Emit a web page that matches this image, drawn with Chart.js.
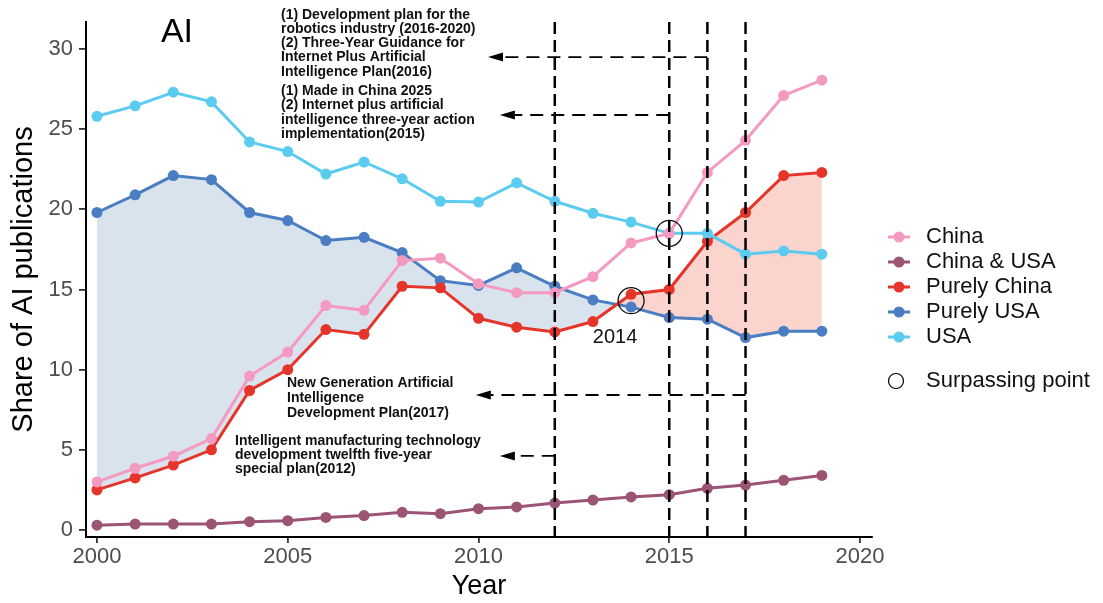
<!DOCTYPE html>
<html><head><meta charset="utf-8">
<script src="https://cdn.jsdelivr.net/npm/chart.js@4"></script>
<style>html,body{margin:0;padding:0;background:#fff;}</style>
</head><body>
<canvas id="c" width="1103" height="603" style="width:1103px;height:603px;display:block"></canvas>
<script>
const years = [2000,2001,2002,2003,2004,2005,2006,2007,2008,2009,2010,2011,2012,2013,2014,2015,2016,2017,2018,2019];
const china       = [3.0,3.85,4.6,5.7,9.6,11.1,14.0,13.7,16.8,16.95,15.35,14.8,14.8,15.8,17.9,18.5,22.3,24.3,27.1,28.05];
const chinaUSA    = [0.3,0.37,0.37,0.37,0.52,0.58,0.78,0.9,1.1,1.02,1.33,1.44,1.68,1.87,2.06,2.2,2.6,2.8,3.1,3.4];
const purelyChina = [2.5,3.25,4.05,5.0,8.7,10.0,12.5,12.2,15.2,15.1,13.2,12.65,12.35,13.0,14.7,15.0,18.0,19.8,22.1,22.3];
const purelyUSA   = [19.8,20.9,22.1,21.85,19.8,19.3,18.05,18.25,17.3,15.55,15.25,16.35,15.2,14.35,13.9,13.25,13.15,12.0,12.4,12.4];
const usa         = [25.8,26.45,27.3,26.7,24.2,23.6,22.2,22.95,21.9,20.5,20.45,21.65,20.5,19.75,19.2,18.5,18.5,17.2,17.4,17.2];
const surpassX = [2014, 2015];
const surpassY = [14.3, 18.5];
const xTicks = [2000,2005,2010,2015,2020];
const yTicks = [0,5,10,15,20,25,30];
const policyYears = [2012,2015,2016,2017];
const arrows = [
  {from:2016, to:2010.25, y:29.49},
  {from:2015, to:2010.56, y:25.88},
  {from:2017, to:2009.93, y:8.42},
  {from:2012, to:2010.56, y:4.62}
];
const notes = [
  {x:281, y:15, lh:14.2, lines:["(1) Development plan for the","robotics industry (2016-2020)","(2) Three-Year Guidance for","Internet Plus Artificial","Intelligence Plan(2016)"]},
  {x:281, y:91, lh:14.5, lines:["(1) Made in China 2025","(2) Internet plus artificial","intelligence three-year action","implementation(2015)"]},
  {x:287, y:383.5, lh:15, lines:["New Generation Artificial","Intelligence","Development Plan(2017)"]},
  {x:235, y:441.5, lh:13.7, lines:["Intelligent manufacturing technology","development twelfth five-year","special plan(2012)"]}
];
const seriesNames = ["China","China & USA","Purely China","Purely USA","USA"];
const colors = {china:'#F49AC1', chinaUSA:'#9C5474', purelyChina:'#E5352B', purelyUSA:'#4A7DC1', usa:'#5CCBF0'};
const legendColors = [colors.china, colors.chinaUSA, colors.purelyChina, colors.purelyUSA, colors.usa];

const toPts = arr => arr.map((v,i)=>({x:years[i], y:v}));
const FONT = "'Liberation Sans', Arial, sans-serif";

function lineDs(label, data, color, order, extra) {
  return Object.assign({
    type:'line', label, data: toPts(data), borderColor: color, backgroundColor: color,
    borderWidth: 3, pointRadius: 5.5, pointBorderWidth: 0, pointBackgroundColor: color,
    fill:false, tension:0, order
  }, extra||{});
}

const overlay = {
  id:'overlay',
  afterDatasetsDraw(chart) {
    const {ctx, chartArea, scales:{x,y}} = chart;
    ctx.save();
    ctx.strokeStyle = '#000'; ctx.lineWidth = 2.5; ctx.setLineDash([12,6]);
    policyYears.forEach(yr => {
      const px = x.getPixelForValue(yr);
      ctx.beginPath(); ctx.moveTo(px, chartArea.top); ctx.lineTo(px, chartArea.bottom); ctx.stroke();
    });
    ctx.lineWidth = 1.8; ctx.setLineDash([13,8]);
    arrows.forEach(a => {
      const x0 = x.getPixelForValue(a.from), x1 = x.getPixelForValue(a.to), py = y.getPixelForValue(a.y);
      ctx.beginPath(); ctx.moveTo(x0, py); ctx.lineTo(x1 + 15, py); ctx.stroke();
      ctx.setLineDash([]);
      ctx.beginPath(); ctx.moveTo(x1, py); ctx.lineTo(x1+15, py-4.5); ctx.lineTo(x1+15, py+4.5); ctx.closePath();
      ctx.fillStyle = '#000'; ctx.fill();
      ctx.setLineDash([13,8]);
    });
    ctx.setLineDash([]);
    ctx.fillStyle = '#111'; ctx.font = "bold 14px " + FONT; ctx.textBaseline = 'middle'; ctx.textAlign = 'left';
    notes.forEach(n => n.lines.forEach((t,i)=>ctx.fillText(t, n.x, n.y + i*n.lh)));
    ctx.font = "20px " + FONT; ctx.textAlign = 'center'; ctx.fillStyle = '#111';
    ctx.fillText("2014", x.getPixelForValue(2013.58), y.getPixelForValue(11.98));
    ctx.font = "34px " + FONT; ctx.fillStyle = '#000';
    ctx.fillText("AI", 177, 33);
    ctx.font = "22px " + FONT; ctx.textAlign = 'left';
    seriesNames.forEach((name,i) => {
      const cy = 237 + i*25;
      ctx.strokeStyle = legendColors[i]; ctx.lineWidth = 3;
      ctx.beginPath(); ctx.moveTo(888, cy); ctx.lineTo(910, cy); ctx.stroke();
      ctx.fillStyle = legendColors[i];
      ctx.beginPath(); ctx.arc(899, cy, 5.5, 0, Math.PI*2); ctx.fill();
      ctx.fillStyle = '#111'; ctx.fillText(name, 926, cy);
    });
    ctx.strokeStyle = '#000'; ctx.lineWidth = 1.2;
    ctx.beginPath(); ctx.arc(896, 381, 7.5, 0, Math.PI*2); ctx.stroke();
    ctx.fillStyle = '#111'; ctx.fillText("Surpassing point", 926, 381);
    ctx.restore();
  }
};

new Chart(document.getElementById('c'), {
  data: {
    datasets: [
      {type:'scatter', label:'Surpassing point', data: surpassX.map((v,i)=>({x:v,y:surpassY[i]})),
       pointRadius: 13, pointBorderWidth: 1.3, pointBorderColor:'#111', pointBackgroundColor:'rgba(0,0,0,0)', order:0},
      lineDs(seriesNames[0], china, colors.china, 1),
      lineDs(seriesNames[4], usa, colors.usa, 2),
      lineDs(seriesNames[2], purelyChina, colors.purelyChina, 3,
        {fill:{target:4, above:'#FAD4CD', below:'#D9E3EE'}}),
      lineDs(seriesNames[3], purelyUSA, colors.purelyUSA, 4),
      lineDs(seriesNames[1], chinaUSA, colors.chinaUSA, 5)
    ]
  },
  options: {
    responsive:false, animation:false, devicePixelRatio:1,
    layout:{padding:{top:22, right:231, left:0, bottom:0}},
    plugins:{legend:{display:false}, tooltip:{enabled:false}, filler:{drawTime:'beforeDatasetsDraw'}},
    scales:{
      x:{type:'linear', min:1999.712, max:2020.315,
         afterBuildTicks: s => { s.ticks = xTicks.map(v=>({value:v})); },
         afterFit: s => { s.height = 66; },
         grid:{drawOnChartArea:false, drawTicks:true, tickLength:6, color:'#333', lineWidth:1.8},
         border:{display:true, color:'#000', width:2},
         ticks:{color:'#4D4D4D', font:{family:FONT, size:22}, padding:1, callback:v=>String(v), maxRotation:0},
         title:{display:true, text:'Year', color:'#000', font:{family:FONT, size:27}, padding:{top:0,bottom:0}}
      },
      y:{type:'linear', min:-0.437, max:31.68,
         afterBuildTicks: s => { s.ticks = yTicks.map(v=>({value:v})); },
         afterFit: s => { s.width = 86; },
         grid:{drawOnChartArea:false, drawTicks:true, tickLength:7, color:'#333', lineWidth:1.8},
         border:{display:true, color:'#000', width:2},
         ticks:{color:'#4D4D4D', font:{family:FONT, size:22}, padding:6, callback:v=>String(v)},
         title:{display:true, text:'Share of AI publications', color:'#000', font:{family:FONT, size:29}, padding:{top:7,bottom:0}}
      }
    }
  },
  plugins:[overlay]
});
</script>
</body></html>
